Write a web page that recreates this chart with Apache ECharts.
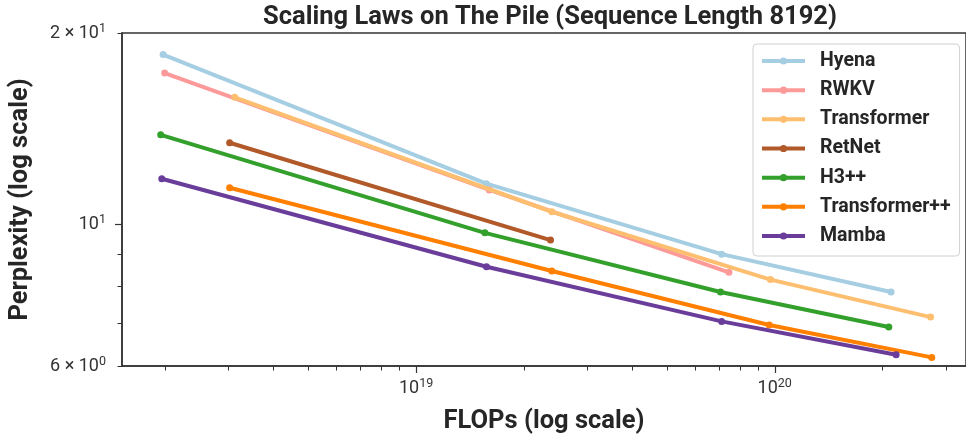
<!DOCTYPE html>
<html><head><meta charset="utf-8">
<script src="https://cdn.jsdelivr.net/npm/echarts@6/dist/echarts.min.js"></script>
<style>html,body{margin:0;padding:0;background:#fff}#c{width:966px;height:440px}</style>
</head><body><div id="c"></div>
<script>
// ---- data ----
const seriesNames = ['Hyena', 'RWKV', 'Transformer', 'RetNet', 'H3++', 'Transformer++', 'Mamba'];
const seriesColors = ['#a6cee3', '#fb9a99', '#fdbf6f', '#b15928', '#33a02c', '#ff7f00', '#6a3d9a'];

const hyenaFlops = [1.97e18, 1.57e19, 7.11e19, 2.11e20];
const hyenaPpl   = [18.5, 11.6, 8.99, 7.84];
const rwkvFlops  = [1.99e18, 1.6e19, 7.45e19];
const rwkvPpl    = [17.3, 11.34, 8.42];
const transformerFlops = [3.12e18, 2.39e19, 9.73e19, 2.72e20];
const transformerPpl   = [15.85, 10.48, 8.20, 7.16];
const retnetFlops = [3.02e18, 2.37e19];
const retnetPpl   = [13.45, 9.46];
const h3Flops = [1.94e18, 1.555e19, 7.06e19, 2.08e20];
const h3Ppl   = [13.84, 9.71, 7.84, 6.91];
const tppFlops = [3.02e18, 2.39e19, 9.65e19, 2.74e20];
const tppPpl   = [11.43, 8.46, 6.96, 6.19];
const mambaFlops = [1.953e18, 1.571e19, 7.11e19, 2.18e20];
const mambaPpl   = [11.81, 8.59, 7.05, 6.25];

const xMin = 1.513e18, xMax = 3.414e20;
const yMin = 6, yMax = 20;
const xMajorTicks = [1e19, 1e20];
const xMajorLabels = [['10', '19'], ['10', '20']];
const xMinorTicks = [2e18, 3e18, 4e18, 5e18, 6e18, 7e18, 8e18, 9e18,
                     2e19, 3e19, 4e19, 5e19, 6e19, 7e19, 8e19, 9e19, 2e20, 3e20];
const yMajorTicks = [10];
const yMinorTicks = [6, 7, 8, 9, 20];
const yLabelTicks = [6, 10, 20];
const yTickLabels = [['6 × 10', '0'], ['10', '1'], ['2 × 10', '1']];

// ---- build ----
const flopsList = [hyenaFlops, rwkvFlops, transformerFlops, retnetFlops, h3Flops, tppFlops, mambaFlops];
const pplList = [hyenaPpl, rwkvPpl, transformerPpl, retnetPpl, h3Ppl, tppPpl, mambaPpl];
const L = Math.log10;
const FONT = 'Roboto';
const TXT = '#262626';
const AX = '#333';

function labelFor(v, ticks, labels) {
  for (let i = 0; i < ticks.length; i++)
    if (Math.abs(L(ticks[i]) - v) < 1e-6) return '{b|' + labels[i][0] + '}{s|' + labels[i][1] + '}';
  return '';
}
const tickRich = {
  b: { fontFamily: FONT, fontSize: 18, color: '#333' },
  s: { fontFamily: FONT, fontSize: 12.5, color: '#333', padding: [0, 0, 9, 0] }
};

const series = seriesNames.map((name, i) => ({
  name, type: 'line', xAxisIndex: 0, yAxisIndex: 0,
  data: flopsList[i].map((x, j) => [x, pplList[i][j]]),
  symbol: 'circle', symbolSize: 7, showSymbol: true,
  lineStyle: { width: 4, color: seriesColors[i] },
  itemStyle: { color: seriesColors[i] },
  emphasis: { disabled: true }, silent: true, z: 2 + i
}));

const option = {
  animation: false,
  backgroundColor: '#fff',
  title: {
    text: 'Scaling Laws on The Pile (Sequence Length 8192)',
    left: 545, top: 0, textAlign: 'center',
    textStyle: { fontFamily: FONT, fontWeight: 'bold', fontSize: 25.5, color: TXT }
  },
  grid: { left: 121, right: -2, top: 33, bottom: 74, show: true, borderColor: AX, borderWidth: 1.5, backgroundColor: 'transparent' },
  legend: {
    orient: 'vertical', left: 753, top: 44,
    data: seriesNames,
    itemWidth: 43, itemHeight: 9, itemGap: 7.17,
    padding: [6, 9, 9, 7],
    lineStyle: { width: 4 },
    backgroundColor: '#fff', borderColor: '#d0d0d0', borderWidth: 1, borderRadius: 4,
    textStyle: { fontFamily: FONT, fontWeight: 'bold', fontSize: 19.5, color: TXT, lineHeight: 22, padding: [0, 0, 0, 10] }
  },
  xAxis: [
    { type: 'log', logBase: 10, min: xMin, max: xMax, show: false },
    { type: 'value', min: L(xMin), max: L(xMax), position: 'bottom',
      name: 'FLOPs (log scale)', nameLocation: 'middle', nameGap: 43,
      nameTextStyle: { fontFamily: FONT, fontWeight: 'bold', fontSize: 25.5, color: TXT },
      axisLine: { show: true, lineStyle: { color: AX, width: 1.5 } },
      axisTick: { show: true, length: 7, customValues: xMajorTicks.map(L), lineStyle: { color: AX, width: 1.2 } },
      axisLabel: { show: true, customValues: xMajorTicks.map(L), margin: 11,
        formatter: v => labelFor(v, xMajorTicks, xMajorLabels), rich: tickRich },
      splitLine: { show: false } },
    { type: 'value', min: L(xMin), max: L(xMax), position: 'bottom',
      axisLine: { show: false },
      axisTick: { show: true, length: 4.5, customValues: xMinorTicks.map(L), lineStyle: { color: AX, width: 1 } },
      axisLabel: { show: false }, splitLine: { show: false } }
  ],
  yAxis: [
    { type: 'log', logBase: 10, min: yMin, max: yMax, show: false },
    { type: 'value', min: L(yMin), max: L(yMax), position: 'left',
      name: 'Perplexity (log scale)', nameLocation: 'middle', nameGap: 88, nameRotate: 90,
      nameTextStyle: { fontFamily: FONT, fontWeight: 'bold', fontSize: 25.5, color: TXT },
      axisLine: { show: true, lineStyle: { color: AX, width: 1.5 } },
      axisTick: { show: true, length: 7, customValues: yMajorTicks.map(L), lineStyle: { color: AX, width: 1.2 } },
      axisLabel: { show: true, customValues: yLabelTicks.map(L), margin: 16,
        formatter: v => labelFor(v, yLabelTicks, yTickLabels), rich: tickRich },
      splitLine: { show: false } },
    { type: 'value', min: L(yMin), max: L(yMax), position: 'left',
      axisLine: { show: false },
      axisTick: { show: true, length: 4.5, customValues: yMinorTicks.map(L), lineStyle: { color: AX, width: 1 } },
      axisLabel: { show: false }, splitLine: { show: false } }
  ],
  series
};

const chart = echarts.init(document.getElementById('c'), null, { renderer: 'canvas' });
chart.setOption(option);
</script>
</body></html>
